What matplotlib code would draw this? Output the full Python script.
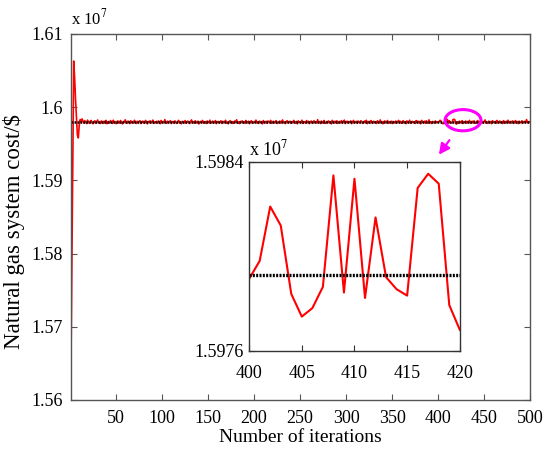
import matplotlib

matplotlib.use('Agg')

import matplotlib.pyplot as plt
import numpy as np
from matplotlib.patches import Ellipse

plt.rcParams['font.family'] = ['Liberation Serif', 'DejaVu Serif']
plt.rcParams['mathtext.fontset'] = 'stix'

# optimal cost (black reference line), $
OPT_COST = 15979200

# first iterations (1..13), $
START_COST = [15645000, 15790000, 15940000, 16063000, 16040000, 16010000,
              15985000, 15962000, 15958000, 15975000, 15983000, 15980000,
              15984000]

# deviation from OPT_COST in hundreds of $, iterations 14..399
DEV_14_399 = [
    18, -9, 24, 3, -16, 31, 8, -12, 15, 27, -4, -19, 6, 22, -11, 10, 33, -7, 2, -15,
    20, 9, -13, 17, -5, 28, -18, 4, 12, -8, 25, 1, -14, 30, -2, 11, -17, 7, 21, -10,
    5, 26, -6, -20, 14, 2, 35, -3, -12, 19, 8, -16, 23, -1, 10, -9, 29, 4, -13, 16,
    -7, 12, 24, -15, 3, 18, -4, -11, 27, 6, -19, 13, 0, 22, -8, 9, 31, -14, 5, -2,
    15, -10, 20, 7, -17, 26, -3, 11, -6, 38, 2, -12, 17, -5, 8, 24, -15, 1, 13, -9,
    21, -2, -14, 10, 28, -7, 4, -18, 16, 3, -8, 25, -11, 6, 19, -4, -16, 12, 34, -1,
    9, -13, 23, 0, -6, 17, -20, 5, 14, -3, 27, -10, 2, 11, -15, 20, 7, -5, 30, -12,
    4, 18, -9, -1, 25, -16, 8, 13, -7, 3, 22, -13, 15, -4, 6, 29, -11, 1, -18, 10,
    24, -6, 12, -14, 5, 19, -2, 36, -9, 7, -15, 14, 0, 21, -7, 9, -12, 26, 3, -5,
    16, -17, 8, 23, -3, -10, 13, 2, 31, -8, 6, -14, 18, -1, 11, -19, 25, 4, -6, 15,
    -11, 20, 7, -4, 28, -13, 1, 16, -8, 10, 24, -15, 3, -2, 19, -9, 12, 33, -5, 6,
    -16, 14, 22, -7, 2, 17, -12, 9, -3, 27, 5, -10, 13, -18, 21, 0, 8, -6, 30, -14,
    11, 3, -9, 25, -2, 15, -17, 6, 19, -5, -12, 23, 1, 9, -8, 37, -4, 12, -15, 18,
    7, -11, 26, -1, -14, 13, 4, 20, -6, 10, -19, 28, 2, -8, 16, -3, 22, -13, 5, 14,
    -5, 24, -10, 8, 31, -15, 3, 17, -7, 12, -2, 21, -16, 6, 27, -9, 1, 15, -12, 19,
    0, -6, 23, 11, -13, 4, 18, -4, 29, -17, 7, 14, -9, 25, 2, -11, 16, -1, 9, -14,
    22, 5, -8, 34, -3, 12, -18, 10, 20, -6, 1, 26, -12, 8, -2, 17, -15, 13, 4, -7,
    19, -10, 6, 28, -4, 15, -13, 2, 24, -8, 11, -16, 21, 3, -5, 30, -11, 7, 14, -2,
    9, -14, 25, 0, 18, -7, 12, -19, 27, 5, -3, 16, -10, 22, 1, -12, 35, -6, 10, -15,
    13, 4, -9, 20, -3, 6,
]

# iterations 400..420 (zoomed window)
DEV_400_420 = [-1.6, 6, 29, 21, -8, -17.6, -14, -5, 42.2, -7.4, 40.8, -9.7,
               24.4, -0.9, -6, -8.7, 36.9, 42.9, 38.7, -12.7, -23.2]

# iterations 421..500
DEV_421_500 = [
    8, -12, 17, 3, -6, 24, -15, 10, 1, 19, -9, 13, -3, 28, -11, 5, 16, -7, 21, 0,
    -14, 12, 26, -4, 7, -17, 20, 2, -10, 15, 33, -8, 4, -13, 18, -1, 11, -16, 23, 6,
    -5, 14, -12, 27, 1, -8, 19, -3, 9, -15, 24, 5, -11, 16, -2, 30, -9, 7, 13, -6,
    20, -13, 3, 25, -7, 11, -16, 17, 0, -4, 22, -10, 8, 14, -5, 38, 2, -9, 12, 4,
]

MAIN_XTICKS = [50, 100, 150, 200, 250, 300, 350, 400, 450, 500]
MAIN_YTICKS = [1.56, 1.57, 1.58, 1.59, 1.60, 1.61]
MAIN_YLABELS = ['1.56', '1.57', '1.58', '1.59', '1.6', '1.61']
INSET_XTICKS = [400, 405, 410, 415, 420]
INSET_YTICKS = [1.5976, 1.5984]

dev = np.array(DEV_14_399 + DEV_400_420 + DEV_421_500, dtype=float)
cost = np.concatenate([np.array(START_COST, dtype=float), OPT_COST + dev * 100])
iters = np.arange(1, len(cost) + 1)
cost7 = cost / 1e7
opt7 = OPT_COST / 1e7


def style_axes(ax, color, xpad, ypad):
    for sp in ax.spines.values():
        sp.set_color(color)
        sp.set_linewidth(1.0)
    ax.tick_params(direction='in', top=True, right=True, length=4,
                   color=color, labelsize=13)
    ax.tick_params(axis='x', pad=xpad)
    ax.tick_params(axis='y', pad=ypad)


fig = plt.figure(figsize=(5.5, 4.53), dpi=100)
ax = fig.add_axes([0.129, 0.117, 0.835, 0.808])
ax.plot(iters, cost7, color='red', linewidth=1.2)
ax.plot(iters, np.full(len(iters), opt7), color='black', linewidth=1.8,
        linestyle=(0, (0.7, 0.5)))
ax.set_xlim(1, 500)
ax.set_ylim(1.56, 1.61)
ax.set_xticks(MAIN_XTICKS)
ax.set_yticks(MAIN_YTICKS)
ax.set_yticklabels(MAIN_YLABELS)
style_axes(ax, '#555555', 7, 6)
ax.set_xlabel('Number of iterations', fontsize=14, labelpad=2)
ax.set_ylabel(r'Natural gas system cost/\$', fontsize=16.5)
ax.yaxis.set_label_coords(-0.100, 0.46)
ax.text(0.0, 1.014, r'x 10$^7$', transform=ax.transAxes, fontsize=12,
        ha='left', va='bottom')

# magenta marker of the zoomed window
ax.add_patch(Ellipse((427, 1.59822), 39, 0.0029, fill=False,
                     edgecolor='magenta', linewidth=2.2, zorder=5))
ax.annotate('', xy=(399, 1.5932), xytext=(414, 1.5958),
            arrowprops=dict(arrowstyle='-|>', color='magenta', lw=1.6,
                            mutation_scale=16))

ins = fig.add_axes([0.453, 0.226, 0.383, 0.417])
sel = (iters >= 400) & (iters <= 420)
ins.plot(iters[sel], cost7[sel], color='red', linewidth=1.5)
ins.plot([400, 420], [opt7, opt7], color='black', linewidth=2.4,
         linestyle=(0, (0.6, 0.4)))
ins.set_xlim(400, 420)
ins.set_ylim(1.5976, 1.5984)
ins.set_xticks(INSET_XTICKS)
ins.set_yticks(INSET_YTICKS)
ins.set_yticklabels(['1.5976', '1.5984'])
style_axes(ins, '#333333', 10, 4)
ins.text(0.0, 1.012, r'x 10$^7$', transform=ins.transAxes, fontsize=13,
         ha='left', va='bottom')

fig.savefig('out.png', dpi=100)
